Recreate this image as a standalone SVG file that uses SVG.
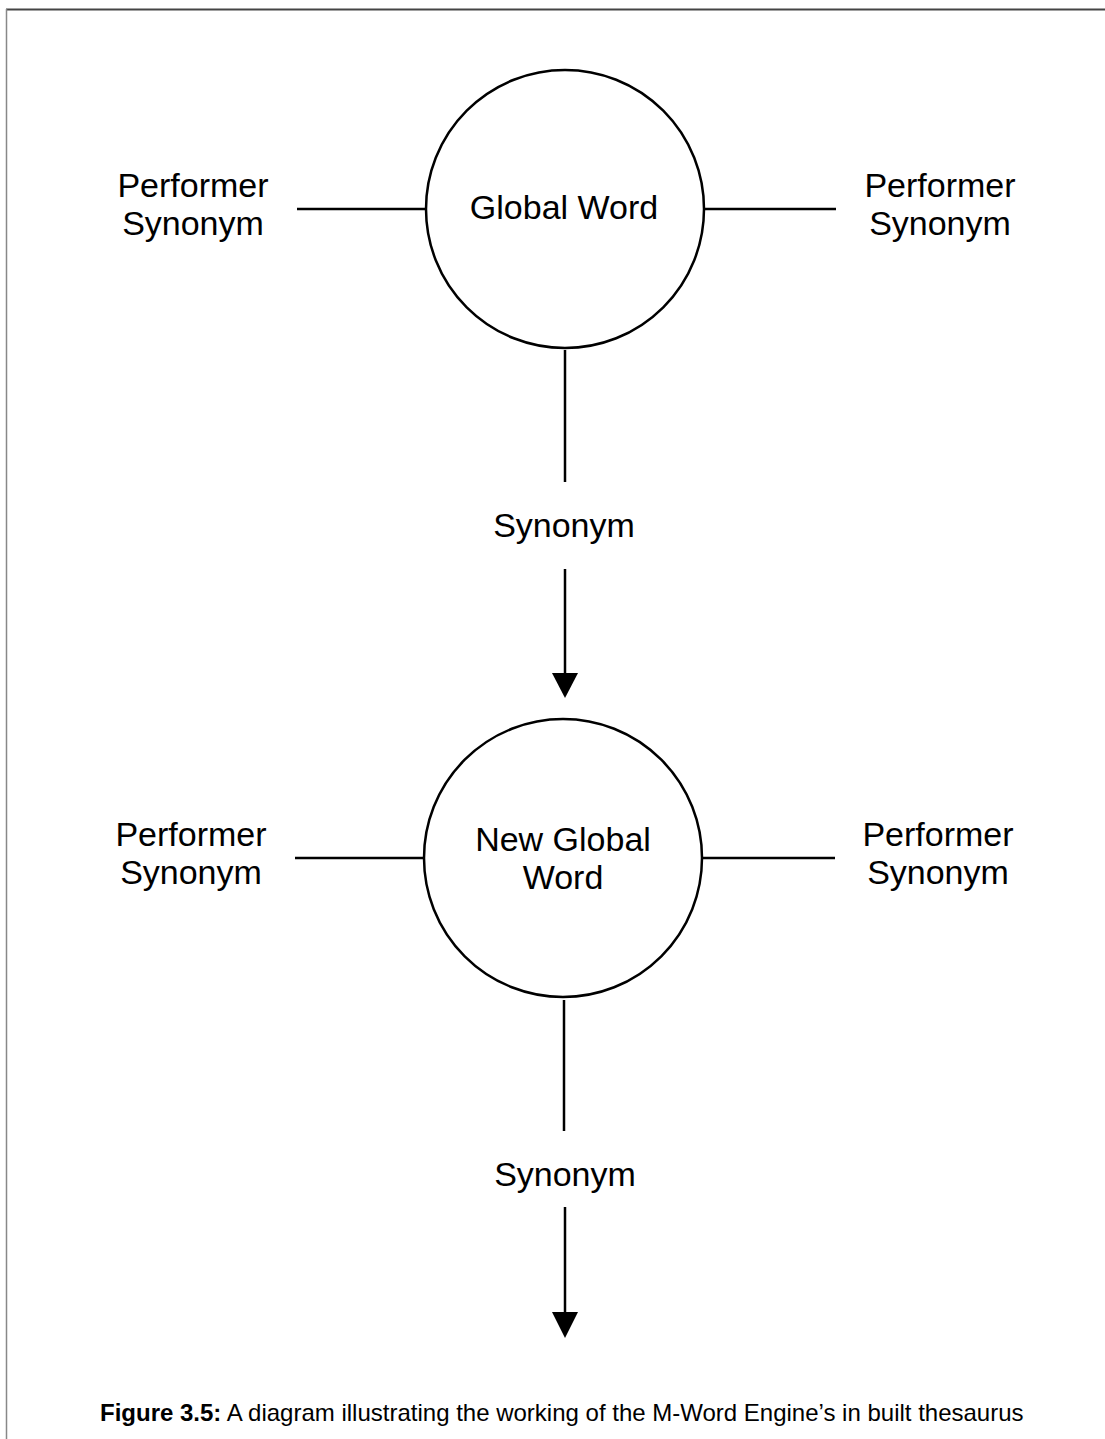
<svg xmlns="http://www.w3.org/2000/svg" width="1105" height="1439" viewBox="0 0 1105 1439">
<style>
.lbl{font-family:"Liberation Sans",Arial,sans-serif;font-size:34px;fill:#000;text-anchor:middle}
.node{fill:#fff;stroke:#000;stroke-width:2.5}
.conn{stroke:#000;stroke-width:2.5;fill:none}
.cap{font-family:"Liberation Sans",Arial,sans-serif;font-size:24px;fill:#000}
</style>
<rect width="1105" height="1439" fill="#fff"/>
<line x1="6" y1="9.5" x2="1105" y2="9.5" stroke="#444" stroke-width="2"/>
<line x1="6.5" y1="9" x2="6.5" y2="1439" stroke="#888" stroke-width="1.5"/>
<g id="connectors">
<line class="conn" x1="297" y1="209" x2="426" y2="209"/>
<line class="conn" x1="704" y1="209" x2="836" y2="209"/>
<line class="conn" x1="565" y1="350" x2="565" y2="482"/>
<line class="conn" x1="565" y1="569" x2="565" y2="675"/>
<path d="M552,673 L578,673 L565,698 Z" fill="#000"/>
<line class="conn" x1="295" y1="858" x2="425" y2="858"/>
<line class="conn" x1="702" y1="858" x2="835" y2="858"/>
<line class="conn" x1="564" y1="1000" x2="564" y2="1131"/>
<line class="conn" x1="565" y1="1207" x2="565" y2="1313"/>
<path d="M552,1312 L578,1312 L565,1338 Z" fill="#000"/>
</g>
<g id="global-word">
<circle class="node" cx="565" cy="209" r="139"/>
<text class="lbl" x="564" y="219">Global Word</text>
</g>
<g id="performer-synonym-1">
<text class="lbl" x="193" y="197">Performer</text>
<text class="lbl" x="193" y="235">Synonym</text>
</g>
<g id="performer-synonym-2">
<text class="lbl" x="940" y="197">Performer</text>
<text class="lbl" x="940" y="235">Synonym</text>
</g>
<g id="synonym-1">
<text class="lbl" x="564" y="537">Synonym</text>
</g>
<g id="new-global-word">
<circle class="node" cx="563" cy="858" r="139"/>
<text class="lbl" x="563" y="851">New Global</text>
<text class="lbl" x="563" y="889">Word</text>
</g>
<g id="performer-synonym-3">
<text class="lbl" x="191" y="846">Performer</text>
<text class="lbl" x="191" y="884">Synonym</text>
</g>
<g id="performer-synonym-4">
<text class="lbl" x="938" y="846">Performer</text>
<text class="lbl" x="938" y="884">Synonym</text>
</g>
<g id="synonym-2">
<text class="lbl" x="565" y="1186">Synonym</text>
</g>
<text class="cap" x="100" y="1421"><tspan font-weight="bold">Figure 3.5:</tspan> A diagram illustrating the working of the M-Word Engine’s in built thesaurus</text>
</svg>
